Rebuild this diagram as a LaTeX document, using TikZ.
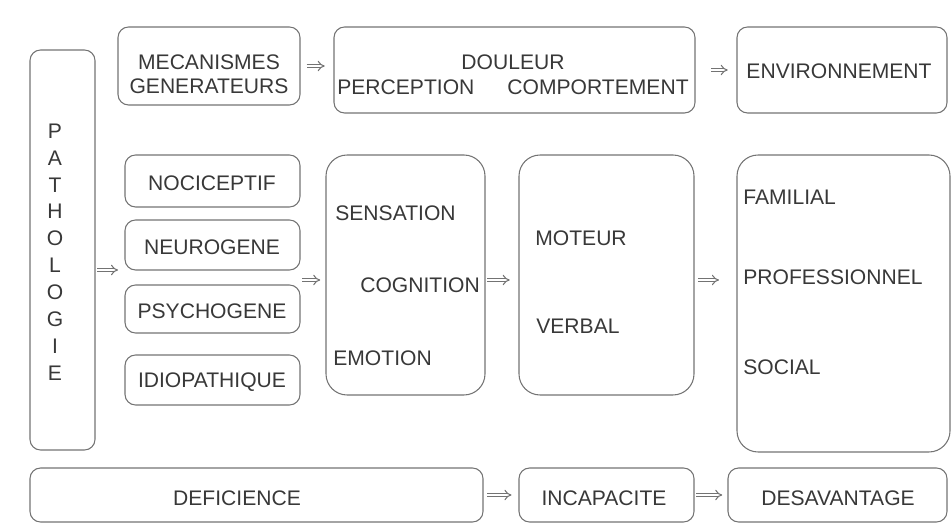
\documentclass[tikz,border=0pt]{standalone}
\usepackage{fontspec}
\setmainfont{Liberation Sans}
\usetikzlibrary{arrows.meta}
\definecolor{trait}{gray}{0.45}
\definecolor{encre}{gray}{0.22}
\tikzstyle{boite}=[draw=trait,rounded corners=6pt,line width=0.6pt,inner sep=0pt]
\tikzstyle{texto}=[inner sep=0pt,text=encre,font=\fontsize{12}{13.6}\selectfont]
\tikzstyle{fleche}=[draw=trait,line width=0.6pt,double,double distance=1.4pt,-{Implies[length=3.5pt]}]

\begin{document}
\begin{tikzpicture}[x=0.02cm,y=-0.02cm]
    \useasboundingbox (0,0) rectangle (952,526);
    % colonne de gauche
    \node [boite,minimum width=65*0.02cm,minimum height=400*0.02cm] (patho) at (62.5,250) {};
    \node [texto,align=center,font=\fontsize{12}{15.3}\selectfont] (pathotxt) at (55,252)
        {P\\A\\T\\H\\O\\L\\O\\G\\I\\E};
    % ligne du haut
    \node [boite,minimum width=182*0.02cm,minimum height=78*0.02cm] (meca) at (209,66) {};
    \node [texto,align=center] (mecatxt) at (209,74) {MECANISMES\\GENERATEURS};
    \node [boite,minimum width=361*0.02cm,minimum height=86*0.02cm] (douleur) at (514.5,70) {};
    \node [texto] (doul) at (513,62) {DOULEUR};
    \node [texto,anchor=west] (perc) at (337,87) {PERCEPTION};
    \node [texto,anchor=east] (comp) at (689,87) {COMPORTEMENT};
    \node [boite,minimum width=210*0.02cm,minimum height=86*0.02cm] (env) at (842,70) {};
    \node [texto] (envtxt) at (839,71) {ENVIRONNEMENT};
    % mecanismes
    \node [boite,minimum width=175*0.02cm,minimum height=52*0.02cm] (noci) at (212.5,181) {};
    \node [texto] (nocitxt) at (212,183) {NOCICEPTIF};
    \node [boite,minimum width=175*0.02cm,minimum height=50*0.02cm] (neuro) at (212.5,245) {};
    \node [texto] (neurotxt) at (212,247) {NEUROGENE};
    \node [boite,minimum width=175*0.02cm,minimum height=48*0.02cm] (psycho) at (212.5,309) {};
    \node [texto] (psychotxt) at (212,311) {PSYCHOGENE};
    \node [boite,minimum width=175*0.02cm,minimum height=50*0.02cm] (idio) at (212.5,380) {};
    \node [texto] (idiotxt) at (212,382) {IDIOPATHIQUE};
    % perception
    \node [boite,minimum width=159*0.02cm,minimum height=240*0.02cm,rounded corners=12pt] (sens) at (405.5,275) {};
    \node [texto,anchor=west] (senstxt) at (335,213) {SENSATION};
    \node [texto,anchor=west] (cogn) at (360,285) {COGNITION};
    \node [texto,anchor=west] (emo) at (333,358) {EMOTION};
    % comportement
    \node [boite,minimum width=175*0.02cm,minimum height=240*0.02cm,rounded corners=12pt] (mot) at (606.5,275) {};
    \node [texto,anchor=west] (mottxt) at (535,238) {MOTEUR};
    \node [texto,anchor=west] (verb) at (536,326) {VERBAL};
    % environnement
    \node [boite,minimum width=213*0.02cm,minimum height=297*0.02cm,rounded corners=12pt] (fam) at (843.5,303.5) {};
    \node [texto,anchor=west] (famtxt) at (743,197) {FAMILIAL};
    \node [texto,anchor=west] (prof) at (743,277) {PROFESSIONNEL};
    \node [texto,anchor=west] (soc) at (743,367) {SOCIAL};
    % ligne du bas
    \node [boite,minimum width=453*0.02cm,minimum height=54*0.02cm] (defi) at (256.5,495) {};
    \node [texto] (defitxt) at (237,498) {DEFICIENCE};
    \node [boite,minimum width=175*0.02cm,minimum height=54*0.02cm] (inca) at (606.5,495) {};
    \node [texto] (incatxt) at (604,498) {INCAPACITE};
    \node [boite,minimum width=219*0.02cm,minimum height=54*0.02cm] (desa) at (837.5,495) {};
    \node [texto] (desatxt) at (838,498) {DESAVANTAGE};
    % fleches
    \coordinate (entree) at (118,270);
    \coordinate (sortie) at (302,280);
    \draw [fleche,shorten <=3.5pt,shorten >=5pt] (meca.east) -- (douleur.west |- meca.east);
    \draw [fleche,shorten <=9pt,shorten >=5pt] (douleur.east) -- (env.west);
    \draw [fleche,shorten <=1pt] (patho.east |- entree) -- (entree);
    \draw [fleche,shorten >=3pt] (sortie) -- (sens.west |- sortie);
    \draw [fleche,shorten <=1pt,shorten >=5pt] (sens.east |- sortie) -- (mot.west |- sortie);
    \draw [fleche,shorten <=2pt,shorten >=10pt] (mot.east |- sortie) -- (fam.west |- sortie);
    \draw [fleche,shorten <=2pt,shorten >=4pt] (defi.east) -- (inca.west);
    \draw [fleche,shorten <=1pt,shorten >=3pt] (inca.east) -- (desa.west);
\end{tikzpicture}
\end{document}
